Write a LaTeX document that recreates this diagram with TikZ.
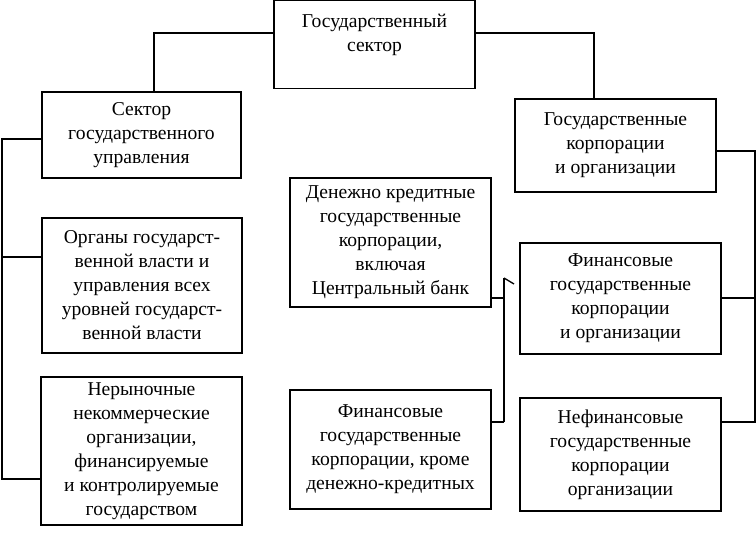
\documentclass[tikz,border=0pt]{standalone}
\usepackage{fontspec}
\setmainfont{Liberation Serif}
\begin{document}
\begin{tikzpicture}[x=0.75pt,y=-0.75pt,
  box/.style={draw,line width=1.3pt,inner sep=0pt,align=center,
    font=\fontsize{14.7}{18}\selectfont},
  conn/.style={line width=1.2pt},
  thick conn/.style={line width=2.2pt}]
\useasboundingbox (0,0) rectangle (756,536);
\node[box,minimum width=150.75pt,minimum height=66pt] (top) at (374.5,44.5)
  {Государственный\\сектор\\[-6pt]\strut};
\node[box,minimum width=149.25pt,minimum height=64.5pt] (b1) at (141.5,135)
  {Сектор\\государственного\\управления};
\node[box,minimum width=150pt,minimum height=101.25pt] (b2) at (142,285.5)
  {Органы государст-\\венной власти и\\управления всех\\уровней государст-\\венной власти};
\node[box,minimum width=150.75pt,minimum height=111pt] (b3) at (141.5,451)
  {Нерыночные\\некоммерческие\\организации,\\финансируемые\\и контролируемые\\государством};
\node[box,minimum width=150.75pt,minimum height=69.75pt] (gk) at (615.5,145.5)
  {Государственные\\корпорации\\и организации};
\node[box,minimum width=150.75pt,minimum height=96.75pt] (dk) at (390.5,242.5)
  {Денежно кредитные\\государственные\\корпорации,\\включая\\Центральный банк};
\node[box,minimum width=150.75pt,minimum height=83.25pt] (fin) at (620.5,298.5)
  {Финансовые\\государственные\\корпорации\\и организации};
\node[box,minimum width=150.75pt,minimum height=89.25pt] (fk) at (390.5,449.5)
  {Финансовые\\государственные\\корпорации, кроме\\денежно-кредитных};
\node[box,minimum width=150.75pt,minimum height=84.75pt] (nf) at (620.5,454.5)
  {Нефинансовые\\государственные\\корпорации\\организации};
% top connectors
\coordinate (tl) at (154,33);
\coordinate (tr) at (594,33);
\draw[conn] (top.west |- tl) -- (tl) -- (tl |- b1.north);
\draw[conn] (top.east |- tr) -- (tr) -- (tr |- gk.north);
% left bracket
\coordinate (lb1) at (2,139);
\coordinate (lb2) at (2,257);
\coordinate (lb3) at (2,479);
\draw[conn] (b1.west |- lb1) -- (lb1) -- (lb3) -- (b3.west |- lb3);
\draw[conn] (lb2) -- (b2.west |- lb2);
% right bracket
\coordinate (rb1) at (755,151);
\coordinate (rb2) at (755,298);
\coordinate (rb3) at (755,422);
\draw[conn] (gk.east |- rb1) -- (rb1) -- (rb3) -- (nf.east |- rb3);
\draw[conn] (rb2) -- (fin.east |- rb2);
% middle connector
\coordinate (mt) at (504,278);
\coordinate (mm) at (504,298);
\coordinate (mb) at (504,422);
\coordinate (mh) at (514,284);
\draw[conn] (dk.east |- mm) -- (mm);
\draw[thick conn] (mt) -- (mb);
\draw[conn] (mb) -- (fk.east |- mb);
\draw[line width=1pt] (mt) -- (mh);
\end{tikzpicture}
\end{document}
